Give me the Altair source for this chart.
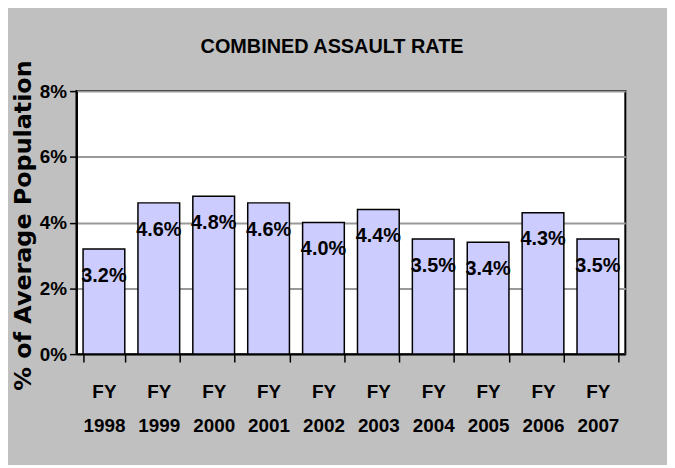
import altair as alt
import pandas as pd

# ---- data ----
years = ["1998", "1999", "2000", "2001", "2002", "2003", "2004", "2005", "2006", "2007"]
rates = [3.2, 4.6, 4.8, 4.6, 4.0, 4.4, 3.5, 3.4, 4.3, 3.5]
labels = ["3.2%", "4.6%", "4.8%", "4.6%", "4.0%", "4.4%", "3.5%", "3.4%", "4.3%", "3.5%"]
y_ticks = [0, 2, 4, 6, 8]
title_text = "COMBINED ASSAULT RATE"
y_title = "% of Average Population"

df = pd.DataFrame({"year": years, "rate": rates, "label": labels})

NARROW = "Liberation Sans, Arial, sans-serif"
WIDE = "DejaVu Sans, Arial, sans-serif"

x_enc = alt.X(
    "year:N",
    sort=years,
    scale=alt.Scale(paddingInner=0.24, paddingOuter=0.12),
    axis=alt.Axis(
        title=None,
        labelExpr="datum.value ? ['FY', datum.value] : ''",
        labelAngle=0,
        labelFont=NARROW,
        labelFontSize=19,
        labelFontWeight="bold",
        labelColor="black",
        labelLineHeight=34,
        labelPadding=21,
        tickBand="extent",
        tickSize=8,
        tickWidth=1.5,
        tickColor="black",
        domainColor="black",
        domainWidth=2,
        grid=False,
    ),
)

y_enc = alt.Y(
    "rate:Q",
    scale=alt.Scale(domain=[0, 8]),
    axis=alt.Axis(
        values=y_ticks,
        labelExpr="datum.value + '%'",
        title=y_title,
        titleFont=WIDE,
        titleFontSize=24,
        titleFontWeight="bold",
        titleColor="black",
        titleAngle=270,
        titleX=-53,
        titleY=135,
        titleAlign="center",
        titleBaseline="middle",
        labelFont=NARROW,
        labelFontSize=19,
        labelFontWeight="bold",
        labelColor="black",
        labelPadding=3,
        tickSize=7,
        tickWidth=1.5,
        tickColor="black",
        domainColor="black",
        domainWidth=2,
        grid=True,
        gridColor="#999999",
        gridWidth=2,
    ),
)

bars = alt.Chart(df).mark_bar(
    fill="#CCCCFF", stroke="black", strokeWidth=1.5
).encode(x=x_enc, y=y_enc)

text = alt.Chart(df).mark_text(
    dy=27, fontSize=20, fontWeight="bold", font=NARROW, color="black", baseline="middle"
).encode(x=alt.X("year:N", sort=years), y=alt.Y("rate:Q"), text="label:N")

chart = (
    (bars + text)
    .properties(
        width=553,
        height=265,
        title=alt.Title(
            title_text,
            font=NARROW,
            fontSize=20,
            fontWeight="bold",
            color="black",
            anchor="middle",
            frame="group",
            dx=-19,
            offset=3,
        ),
        background="#C0C0C0",
        padding={"left": 69, "top": 82, "right": 42, "bottom": 110},
        autosize=alt.AutoSizeParams(type="none"),
    )
    .configure_view(fill="white", stroke="black", strokeWidth=2)
)

chart.save("out.html", embed_options={"renderer": "svg", "actions": False})
